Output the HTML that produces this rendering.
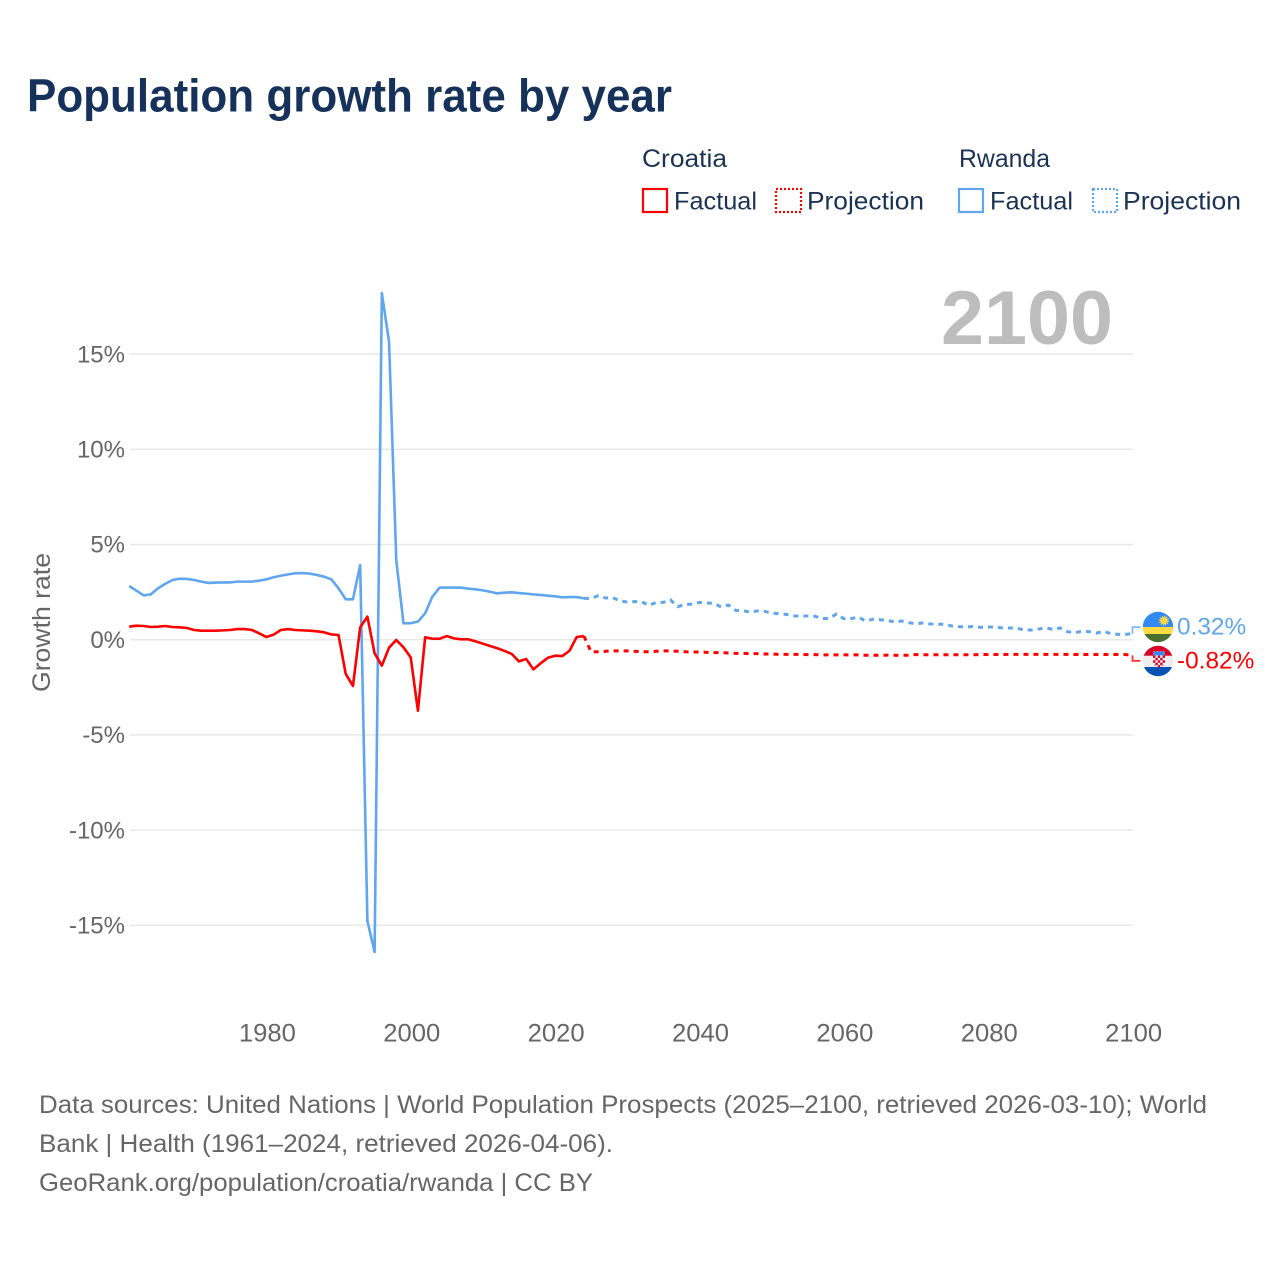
<!DOCTYPE html>
<html lang="en">
<head>
<meta charset="utf-8">
<title>Population growth rate by year</title>
<style>
html,body{margin:0;padding:0;background:#fff;width:1280px;height:1280px;overflow:hidden}
svg{display:block;font-family:"Liberation Sans",sans-serif}
</style>
</head>
<body>
<svg id="chart" xmlns="http://www.w3.org/2000/svg" width="1280" height="1280" viewBox="0 0 1280 1280">
  <defs>
    <clipPath id="clip-rw"><circle cx="1158" cy="627" r="15.2"/></clipPath>
    <clipPath id="clip-hr"><circle cx="1158" cy="661" r="15.2"/></clipPath>
    <pattern id="checks" width="4.8" height="4.8" patternUnits="userSpaceOnUse" x="1153" y="655.5">
      <rect width="4.8" height="4.8" fill="#eee"/>
      <rect width="2.4" height="2.4" fill="#d80027"/>
      <rect x="2.4" y="2.4" width="2.4" height="2.4" fill="#d80027"/>
    </pattern>
  </defs>
  <rect width="1280" height="1280" fill="#fff"/>

  <text x="27" y="111.5" font-size="46" font-weight="700" fill="#17325a" textLength="645" lengthAdjust="spacingAndGlyphs">Population growth rate by year</text>

  <g font-size="25" fill="#1a3355">
    <text x="642" y="167" textLength="85" lengthAdjust="spacingAndGlyphs">Croatia</text>
    <text x="959" y="167" textLength="91" lengthAdjust="spacingAndGlyphs">Rwanda</text>
    <g>
      <rect x="643" y="189" width="24" height="23" fill="none" stroke="#ff0000" stroke-width="2.2"/>
      <text x="674" y="209.5" textLength="83" lengthAdjust="spacingAndGlyphs">Factual</text>
    </g>
    <g>
      <rect x="776" y="189" width="25" height="23" fill="none" stroke="#ff0000" stroke-width="2.2" stroke-dasharray="2 2"/>
      <text x="807" y="209.5" textLength="117" lengthAdjust="spacingAndGlyphs">Projection</text>
    </g>
    <g>
      <rect x="959" y="189" width="24" height="23" fill="none" stroke="#5fa6ee" stroke-width="2.2"/>
      <text x="990" y="209.5" textLength="83" lengthAdjust="spacingAndGlyphs">Factual</text>
    </g>
    <g>
      <rect x="1093" y="189" width="24" height="23" fill="none" stroke="#5fa6ee" stroke-width="2.2" stroke-dasharray="2 2"/>
      <text x="1123" y="209.5" textLength="118" lengthAdjust="spacingAndGlyphs">Projection</text>
    </g>
  </g>

  <text x="941" y="344" font-size="76" font-weight="700" fill="#bdbdbd" textLength="172" lengthAdjust="spacingAndGlyphs">2100</text>

  <g id="grid"></g>
  <g id="yticks"></g>
  <g id="xticks"></g>

  <text transform="translate(50,622.5) rotate(-90)" text-anchor="middle" font-size="25" fill="#666" textLength="139" lengthAdjust="spacingAndGlyphs">Growth rate</text>

  <g id="series"></g>

  <g clip-path="url(#clip-rw)">
    <rect x="1142" y="611" width="32" height="16.5" fill="#338af3"/>
    <rect x="1142" y="627" width="32" height="7.5" fill="#ffda44"/>
    <rect x="1142" y="634" width="32" height="9" fill="#496e2d"/>
    <circle cx="1164" cy="620.7" r="3.6" fill="#ffda44"/>
    <circle cx="1164" cy="620.7" r="4.2" fill="none" stroke="#ffda44" stroke-width="1.6" stroke-dasharray="1.1 1.1"/>
  </g>
  <g clip-path="url(#clip-hr)">
    <rect x="1142" y="645" width="32" height="11" fill="#d80027"/>
    <rect x="1142" y="655.7" width="32" height="11.3" fill="#eee"/>
    <rect x="1142" y="667" width="32" height="10" fill="#0052b4"/>
    <rect x="1153.5" y="651.5" width="11" height="4" fill="#338af3" stroke="#eee" stroke-width="0.5" stroke-dasharray="1.5 1.5"/>
    <path d="M1153 655.5h12v7q0 3.8-6 5q-6-1.2-6-5z" fill="url(#checks)"/>
  </g>

  <g font-size="25" fill="#666">
    <text x="39" y="1113" textLength="1168" lengthAdjust="spacingAndGlyphs">Data sources: United Nations | World Population Prospects (2025–2100, retrieved 2026-03-10); World</text>
    <text x="39" y="1152" textLength="574" lengthAdjust="spacingAndGlyphs">Bank | Health (1961–2024, retrieved 2026-04-06).</text>
    <text x="39" y="1191" textLength="554" lengthAdjust="spacingAndGlyphs">GeoRank.org/population/croatia/rwanda | CC BY</text>
  </g>
</svg>
<script>
const firstYear = 1961;
const lastFactualYear = 2024;
const lastYear = 2100;
const yTickValues = [15, 10, 5, 0, -5, -10, -15];
const xTickYears = [1980, 2000, 2020, 2040, 2060, 2080, 2100];

// annual growth rate, %, 1961-2024
const rwandaFactual = [
  2.82,2.575,2.33,2.38,2.70,2.94,3.135,3.205,3.19,3.135,
  3.05,2.98,3.0,3.01,3.01,3.05,3.05,3.05,3.10,3.17,
  3.28,3.36,3.43,3.49,3.50,3.47,3.40,3.31,3.17,2.70,
  2.12,2.12,3.92,-14.77,-16.4,18.2,15.65,4.18,0.86,0.87,
  0.95,1.385,2.26,2.73,2.74,2.74,2.73,2.68,2.645,2.59,
  2.52,2.435,2.47,2.49,2.45,2.42,2.38,2.35,2.31,2.28,
  2.225,2.24,2.24,2.17
];
const croatiaFactual = [
  0.685,0.737,0.72,0.667,0.685,0.72,0.667,0.65,0.614,0.51,
  0.474,0.474,0.474,0.49,0.51,0.56,0.56,0.51,0.334,0.14,
  0.264,0.51,0.56,0.51,0.49,0.474,0.44,0.387,0.28,0.247,
  -1.80,-2.43,0.65,1.21,-0.716,-1.364,-0.42,-0.016,-0.40,-0.926,
  -3.73,0.124,0.054,0.05,0.19,0.07,0.02,0.02,-0.086,-0.21,
  -0.33,-0.45,-0.59,-0.75,-1.14,-1.01,-1.56,-1.24,-0.95,-0.84,
  -0.86,-0.58,0.14,0.19
];
// annual growth rate, %, 2025-2100
const rwandaProjection = [
  2.17,2.31,2.19,2.21,2.03,1.98,2.0,2.0,1.79,1.96,
  1.96,2.085,1.735,1.86,1.86,1.96,1.93,1.91,1.72,1.82,
  1.54,1.525,1.455,1.51,1.49,1.40,1.37,1.33,1.245,1.245,
  1.245,1.23,1.105,1.12,1.35,1.105,1.105,1.19,0.98,1.07,
  1.05,1.02,0.93,0.98,0.895,0.84,0.88,0.825,0.81,0.81,
  0.72,0.685,0.67,0.70,0.65,0.67,0.67,0.615,0.615,0.60,
  0.51,0.51,0.56,0.63,0.53,0.615,0.42,0.37,0.44,0.42,
  0.35,0.44,0.32,0.28,0.28,0.32
];
const croatiaProjection = [
  -0.646,-0.63,-0.61,-0.59,-0.59,-0.59,-0.61,-0.63,-0.63,-0.61,
  -0.59,-0.59,-0.61,-0.63,-0.646,-0.646,-0.663,-0.68,-0.68,-0.70,
  -0.716,-0.716,-0.734,-0.734,-0.75,-0.75,-0.77,-0.77,-0.77,-0.77,
  -0.786,-0.786,-0.80,-0.80,-0.80,-0.80,-0.80,-0.80,-0.82,-0.82,
  -0.82,-0.81,-0.82,-0.82,-0.82,-0.78,-0.79,-0.79,-0.79,-0.79,
  -0.79,-0.79,-0.79,-0.79,-0.78,-0.78,-0.78,-0.78,-0.77,-0.77,
  -0.77,-0.77,-0.77,-0.77,-0.77,-0.77,-0.77,-0.78,-0.78,-0.78,
  -0.78,-0.78,-0.78,-0.78,-0.78,-0.82
];

const NS = 'http://www.w3.org/2000/svg';
const plotLeft = 130, plotRight = 1133.3, zeroY = 639.7, pxPerPercent = 19.04;
const RED = '#ff0000', BLUE = '#5fa6ee';
const markShiftX = -0.8;

function xScale(year) {
  return plotLeft + (year - firstYear) * (plotRight - plotLeft) / (lastYear - firstYear);
}
function yScale(value) {
  return zeroY - value * pxPerPercent;
}
function make(tag, parent, attrs, text) {
  const el = document.createElementNS(NS, tag);
  for (const key in attrs) el.setAttribute(key, attrs[key]);
  if (text !== undefined) el.textContent = text;
  parent.appendChild(el);
  return el;
}
function linePath(startYear, values, prefix) {
  let d = prefix || '';
  values.forEach(function (v, i) {
    d += (d ? 'L' : 'M') + (xScale(startYear + i) + markShiftX).toFixed(2) + ' ' + yScale(v).toFixed(2);
  });
  return d;
}

const gridGroup = document.getElementById('grid');
const yTickGroup = document.getElementById('yticks');
const xTickGroup = document.getElementById('xticks');
const seriesGroup = document.getElementById('series');

yTickValues.forEach(function (v) {
  const gridLine = make('line', gridGroup, { x1: plotLeft, x2: plotRight, y1: yScale(v), y2: yScale(v), stroke: '#e8e8e8', 'stroke-width': 1.5 });
  
  
  const tickLabel = make('text', yTickGroup, { x: 125, y: yScale(v) + 8.2, 'text-anchor': 'end', 'font-size': 24, fill: '#666' }, v + '%');
  
  
});
xTickYears.forEach(function (year) {
  const tickLabel = make('text', xTickGroup, { x: xScale(year) + 0.3, y: 1041.5, 'text-anchor': 'middle', 'font-size': 25, fill: '#666', textLength: 57, lengthAdjust: 'spacingAndGlyphs' }, String(year));
  
  
});

function drawSeries(slug, color, factual, projection, labelOffset) {
  const factualLine = make('path', seriesGroup, { d: linePath(firstYear, factual), fill: 'none', stroke: color, 'stroke-width': 2.6, 'stroke-linejoin': 'round' });
  
  

  const joinPoint = 'M' + (xScale(lastFactualYear) + markShiftX).toFixed(2) + ' ' + yScale(factual[factual.length - 1]).toFixed(2);
  const projectionLine = make('path', seriesGroup, { d: linePath(lastFactualYear + 1, projection, joinPoint), fill: 'none', stroke: color, 'stroke-width': 3, 'stroke-dasharray': '5 5' });
  
  

  const endValue = projection[projection.length - 1];
  const endX = xScale(lastYear) + markShiftX, endY = yScale(endValue), labelY = endY + labelOffset;
  const connector = make('path', seriesGroup, { d: 'M' + endX + ' ' + endY + 'V' + labelY + 'H' + (endX + 8), fill: 'none', stroke: color, 'stroke-width': 1.8, 'stroke-opacity': 0.8 });
  
  

  const valueLabel = make('text', seriesGroup, { x: 1177, y: labelY + 7.5, 'font-size': 24.4, fill: color }, endValue.toFixed(2) + '%');
  
  
}
drawSeries('rwanda', BLUE, rwandaFactual, rwandaProjection, -6.5);
drawSeries('croatia', RED, croatiaFactual, croatiaProjection, 5.5);
</script>
</body>
</html>
